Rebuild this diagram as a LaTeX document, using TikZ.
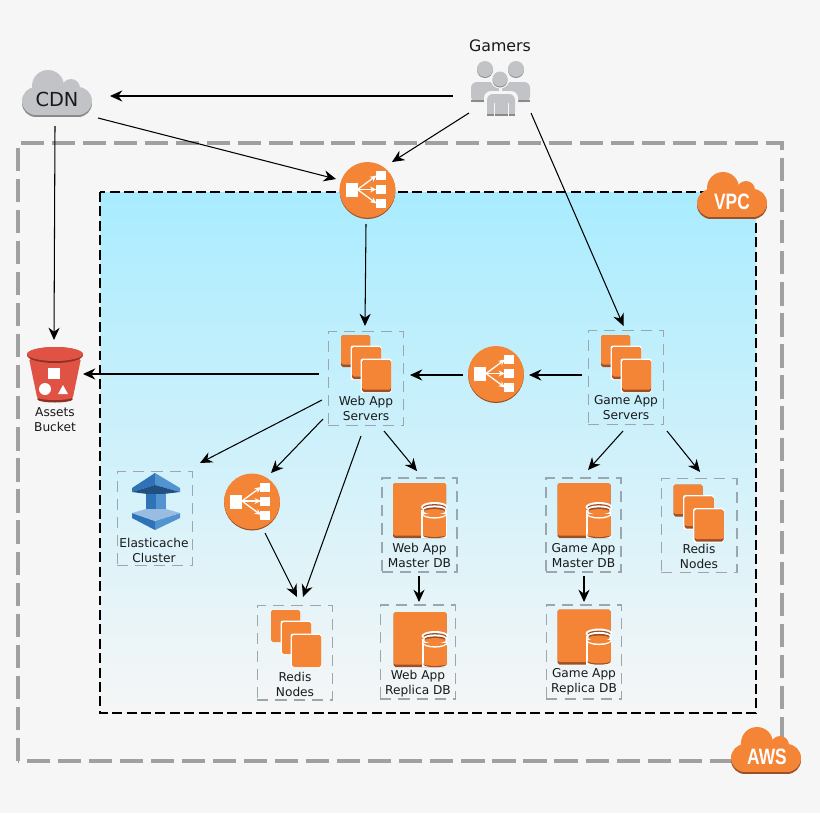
\documentclass[tikz,border=0pt]{standalone}
\usepackage{fontspec}
\setmainfont{DejaVu Sans}
\newfontfamily\cloudfont[FakeStretch=0.78]{Liberation Sans}
\usetikzlibrary{arrows.meta}

\definecolor{pagegray}{HTML}{F6F6F6}
\definecolor{awsorange}{HTML}{F58536}
\definecolor{awsdark}{HTML}{9D5025}
\definecolor{awsline}{HTML}{A0A0A0}
\definecolor{vpcblue}{HTML}{A9ECFF}
\definecolor{groupline}{HTML}{9AA7AE}
\definecolor{cloudgray}{HTML}{C1C3C6}
\definecolor{darkgray}{HTML}{8A8A8A}
\definecolor{bucketred}{HTML}{E05243}
\definecolor{bucketdark}{HTML}{8C3123}
\definecolor{cachedark}{HTML}{2E73B8}
\definecolor{cachemid}{HTML}{5294CF}
\definecolor{cachelight}{HTML}{99BCE3}
\definecolor{cachenavy}{HTML}{205081}

% one square of a server stack: left, top, shadow colour
\newcommand{\serverbox}[3]{
  \fill[#3, rounded corners=1.5pt] (#1,#2) rectangle (#1+29,#2+32);
  \fill[awsorange, rounded corners=1.5pt] (#1,#2) rectangle (#1+29,#2+29.5);
}
\newcommand{\outlinebox}[2]{
  \fill[white, rounded corners=2pt] (#1-1.5,#2-1.5) rectangle (#1+29.5,#2+33);
}

\tikzset{
  arrow/.style={-{Stealth[length=10.5pt,width=9.5pt]}, line width=0.9pt, black},
  groupbox/.style={draw=groupline, line width=1.4pt, dash pattern=on 9.5pt off 6pt,
    minimum width=2.26cm, minimum height=2.83cm, inner sep=0pt},
  caption/.style={align=center, inner sep=0pt, text=black!90,
    font=\fontsize{10.4}{12.8}\selectfont},
  cloudtext/.style={inner sep=0pt, text=white, font=\cloudfont\bfseries\fontsize{19}{19}\selectfont},
  lbnode/.style={circle, minimum size=1.68cm, inner sep=0pt},
  pics/cloudicon/.style args={#1 and #2}{code={
    \fill[#2] (14,33) circle (14);
    \fill[#2] (56,33) circle (14);
    \fill[#2] (14,33) rectangle (56,47);
    \fill[#1] (26,16) circle (16);
    \fill[#1] (49,18) circle (9);
    \fill[#1] (14,31) circle (14);
    \fill[#1] (56,31) circle (14);
    \fill[#1] (14,17) rectangle (56,45);
  }},
  pics/stackicon/.style={code={
    \serverbox{-25.5}{-28.5}{#1}
    \outlinebox{-14.5}{-16.5}
    \serverbox{-14.5}{-16.5}{#1}
    \outlinebox{-4.5}{-3.5}
    \serverbox{-4.5}{-3.5}{#1}
  }},
  pics/dbicon/.style={code={
    \fill[awsdark, rounded corners=1.5pt] (-26.5,-27.5) rectangle (26.5,27.5);
    \fill[awsorange, rounded corners=1.5pt] (-26.5,-27.5) rectangle (26.5,25);
    \fill[white] (1.5,-1) rectangle (27,27.5);
    \fill[white] (15,-3.5) ellipse (13.5 and 5);
    \fill[awsdark] (15,25) ellipse (11.5 and 2.7);
    \fill[awsorange] (3.5,5) rectangle (26.5,25);
    \fill[awsorange] (15,24) ellipse (11.5 and 2.4);
    \fill[white] (15,3.5) ellipse (12.5 and 4.6);
    \fill[awsorange] (15,3) ellipse (11.5 and 3.6);
    \fill[white] (3.5,-3) rectangle (26.5,3);
    \fill[awsdark] (15,-3) ellipse (11.5 and 3.4);
    \fill[white] (15,-1.5) ellipse (11.5 and 3.6);
    \fill[awsorange] (15,0.5) ellipse (10.5 and 3.2);
    \fill[awsdark] (15,-0.5) ellipse (10.5 and 2.6);
    \fill[awsorange] (15,1) ellipse (10.5 and 2.4);
  }},
  pics/lbicon/.style={code={
    \fill[awsdark] (0,0.6) circle (27.9);
    \fill[awsorange] (0,-0.6) circle (27.9);
    \fill[white] (-22,-7.5) rectangle (-10,6.5);
    \fill[white] (8,-19.5) rectangle (18,-10.5);
    \fill[white] (8,-5.5) rectangle (18,3.5);
    \fill[white] (8,8.5) rectangle (18,17.5);
    \draw[white, line width=1.1pt, -{Stealth[length=5.5pt,width=5pt]}] (-10,-1) -- (9,-15);
    \draw[white, line width=1.1pt, -{Stealth[length=5.5pt,width=5pt]}] (-10,-1) -- (9,-1);
    \draw[white, line width=1.1pt, -{Stealth[length=5.5pt,width=5pt]}] (-10,-1) -- (9,13);
  }}
}

\begin{document}
\begin{tikzpicture}[x=0.03cm, y=-0.03cm]
  \useasboundingbox (0,0) rectangle (820,813);
  \fill[pagegray] (0,0) rectangle (820,813);

  % aws and vpc areas
  \draw[awsline, line width=2.8pt, dash pattern=on 19.8pt off 6.7pt] (18,761) -- (18,143) -- (782,143) -- (782,761) -- cycle;
  \draw[black, line width=2.2pt, dash pattern=on 8.5pt off 3.8pt, top color=vpcblue, bottom color=pagegray] (100,192) rectangle (756,713);

  % clouds
  \pic at (22,70) {cloudicon=cloudgray and darkgray};
  \pic at (697,172) {cloudicon=awsorange and awsdark};
  \pic at (731,727) {cloudicon=awsorange and awsdark};
  \node[inner sep=0pt, font=\fontsize{16.5}{16.5}\selectfont, text=black!90] (cdn) at (57,99) {CDN};
  \node[cloudtext] (vpc) at (732,202) {VPC};
  \node[cloudtext] (aws) at (767,757) {AWS};

  % gamers
  \node[inner sep=0pt, minimum width=1.77cm, minimum height=1.71cm] (gamers) at (500.5,88.5) {};
  \node[caption, font=\fontsize{13.5}{13.5}\selectfont] (gamerstext) at (500,46) {Gamers};
  \fill[cloudgray, rounded corners=5pt] (471,82) rectangle (499,102);
  \fill[cloudgray, rounded corners=5pt] (502,82) rectangle (530,102);
  \fill[darkgray] (471,100) rectangle (499,102);
  \fill[darkgray] (502,100) rectangle (530,102);
  \fill[darkgray] (485,70) circle (8);
  \fill[darkgray] (516,70) circle (8);
  \fill[cloudgray] (485,69) circle (8);
  \fill[cloudgray] (516,69) circle (8);
  \fill[pagegray] (500,79) circle (9.5);
  \fill[pagegray, rounded corners=6pt] (484,91) rectangle (518,118);
  \fill[darkgray] (500,80) circle (7.5);
  \fill[cloudgray] (500,79) circle (7.5);
  \fill[cloudgray, rounded corners=5pt] (487,94) rectangle (515,116);
  \fill[pagegray] (485,112) rectangle (517,118);
  \fill[cloudgray] (487,108) rectangle (515,114);
  \fill[darkgray] (487,114) rectangle (515,116);
  \draw[pagegray, line width=0.8pt] (494,103) -- (494,117) (508,103) -- (508,117);

  % assets bucket
  \node[inner sep=0pt, minimum width=1.68cm, minimum height=1.65cm] (bucket) at (55,374.5) {};
  \fill[bucketdark] (55,399) ellipse (18 and 3.5);
  \fill[bucketred] (28.5,356) -- (37,397) -- (73,397) -- (81.5,356) -- cycle;
  \fill[bucketred] (55,397) ellipse (18 and 3);
  \draw[white, line width=0.9pt] (29,360) arc (180:0:26 and -6);
  \fill[bucketdark] (55,355) ellipse (28 and 8);
  \fill[bucketred] (55,354) ellipse (28 and 7);
  \fill[white] (48,368) rectangle (60,379);
  \fill[white] (45,389) circle (6);
  \fill[white] (58,394) -- (68,394) -- (63,385) -- cycle;
  \node[caption] (buckettext) at (55,419.5) {Assets\\Bucket};

  % load balancers
  \node[lbnode] (lbfront) at (367.5,190.5) {};
  \node[lbnode] (lbgame) at (496,374.5) {};
  \node[lbnode] (lbredis) at (252,502) {};
  \pic at (lbfront.center) {lbicon};
  \pic at (lbgame.center) {lbicon};
  \pic at (lbredis.center) {lbicon};

  % server groups
  \node[groupbox] (web) at (366,378.5) {};
  \node[groupbox] (game) at (626,377.5) {};
  \node[groupbox] (elasticache) at (155,518.5) {};
  \node[groupbox] (webdb) at (419.5,525) {};
  \node[groupbox] (gamedb) at (583.5,525) {};
  \node[groupbox] (redisgame) at (699,525.5) {};
  \node[groupbox] (redisweb) at (295,652.5) {};
  \node[groupbox] (webreplica) at (418,652) {};
  \node[groupbox] (gamereplica) at (584,652) {};

  % icons
  \pic at ([shift={(0.5,-15)}]web.center) {stackicon=awsdark};
  \pic at ([shift={(0.5,-14)}]game.center) {stackicon=awsdark};
  \pic at ([shift={(0,-12.5)}]redisgame.center) {stackicon=awsdark};
  \pic at ([shift={(1.5,-14)}]redisweb.center) {stackicon=awsorange};
  \pic at ([shift={(0,-14.5)}]webdb.center) {dbicon};
  \pic at ([shift={(0.5,-14.5)}]gamedb.center) {dbicon};
  \pic at ([shift={(2,-12.5)}]webreplica.center) {dbicon};
  \pic at ([shift={(0,-15)}]gamereplica.center) {dbicon};

  % elasticache icon
  \fill[cachedark] (155,473) -- (132,488) -- (132,492) -- (155,485) -- cycle;
  \fill[cachemid] (155,473) -- (180,488) -- (180,492) -- (155,485) -- cycle;
  \fill[cachenavy] (132,492) -- (155,485) -- (180,492) -- (155,495) -- cycle;
  \fill[cachedark] (146,494) rectangle (156,510);
  \fill[cachemid] (156,494) rectangle (166,510);
  \fill[cachedark] (132,513) -- (155,521) -- (155,530) -- (132,518) -- cycle;
  \fill[cachemid] (180,513) -- (155,521) -- (155,530) -- (180,518) -- cycle;
  \fill[cachelight] (132,513) -- (146,509) -- (166,509) -- (180,513) -- (155,521) -- cycle;

  % captions
  \node[caption] (webtext) at ([shift={(0,30)}]web.center) {Web App\\Servers};
  \node[caption] (gametext) at ([shift={(0,30.5)}]game.center) {Game App\\Servers};
  \node[caption] (cachetext) at ([shift={(-1,32)}]elasticache.center) {Elasticache\\Cluster};
  \node[caption] (webdbtext) at ([shift={(0,30.5)}]webdb.center) {Web App\\Master DB};
  \node[caption] (gamedbtext) at ([shift={(0,30.5)}]gamedb.center) {Game App\\Master DB};
  \node[caption] (redisgametext) at ([shift={(0,31)}]redisgame.center) {Redis\\Nodes};
  \node[caption] (rediswebtext) at ([shift={(0,32)}]redisweb.center) {Redis\\Nodes};
  \node[caption] (webreplicatext) at ([shift={(0,32)}]webreplica.center) {Web App\\Replica DB};
  \node[caption] (gamereplicatext) at ([shift={(0,30)}]gamereplica.center) {Game App\\Replica DB};

  % connectors
  \draw[arrow] ([shift={(-47.5,7.5)}]gamers.center) -- ([shift={(53,-3)}]cdn.center);
  \draw[arrow] ([shift={(41,19)}]cdn.center) -- ([shift={(-31.5,-11.5)}]lbfront.center);
  \draw[arrow] ([shift={(-31.5,24.5)}]gamers.center) -- ([shift={(24.5,-28.5)}]lbfront.center);
  \draw[arrow] ([shift={(30.5,24.5)}]gamers.center) -- ([shift={(-2.5,-51.5)}]game.center);
  \draw[arrow] ([shift={(-2,27)}]cdn.center) -- ([shift={(-1,-34.5)}]bucket.center);
  \draw[arrow] ([shift={(-1.5,33.5)}]lbfront.center) -- ([shift={(-1,-52.5)}]web.center);
  \draw[arrow] ([shift={(-47,-4.5)}]web.center) -- ([shift={(28,-0.5)}]bucket.center);
  \draw[arrow] ([shift={(-44,21.5)}]web.center) -- ([shift={(45,-55.5)}]elasticache.center);
  \draw[arrow] ([shift={(-43,40.5)}]web.center) -- ([shift={(19,-29)}]lbredis.center);
  \draw[arrow] ([shift={(13,31)}]lbredis.center) -- ([shift={(2,-55.5)}]redisweb.center);
  \draw[arrow] ([shift={(-5,57.5)}]web.center) -- ([shift={(8,-55.5)}]redisweb.center);
  \draw[arrow] ([shift={(18,52.5)}]web.center) -- ([shift={(-2.5,-54)}]webdb.center);
  \draw[arrow] ([shift={(-0.5,51)}]webdb.center) -- ([shift={(1,-50)}]webreplica.center);
  \draw[arrow] ([shift={(-44,-2.5)}]game.center) -- ([shift={(33,0.5)}]lbgame.center);
  \draw[arrow] ([shift={(-33,0.5)}]lbgame.center) -- ([shift={(44,-3.5)}]web.center);
  \draw[arrow] ([shift={(-3,53.5)}]game.center) -- ([shift={(4.5,-55)}]gamedb.center);
  \draw[arrow] ([shift={(41,53.5)}]game.center) -- ([shift={(1,-53.5)}]redisgame.center);
  \draw[arrow] ([shift={(0.5,51)}]gamedb.center) -- ([shift={(0,-50)}]gamereplica.center);
\end{tikzpicture}
\end{document}
